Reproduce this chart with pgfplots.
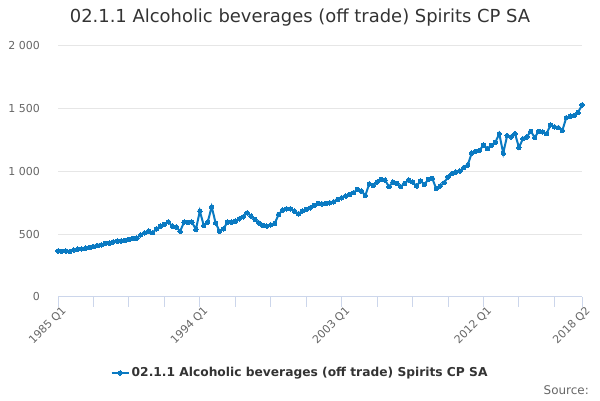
\documentclass[border=0pt]{standalone}
\usepackage{fontspec}
\setmainfont{DejaVu Sans}
\usepackage{pgfplots}
\pgfplotsset{compat=1.18}
\usepackage{pgfplotstable}
\definecolor{onsblue}{RGB}{10,122,194}
\definecolor{titlegray}{HTML}{333333}
\definecolor{labelgray}{HTML}{666666}
\definecolor{gridgray}{HTML}{E6E6E6}
\definecolor{axisblue}{HTML}{CCD6EB}
\pgfplotstableread{
i v
0 365
1 363
2 365
3 360
4 373
5 379
6 381
7 387
8 392
9 400
10 408
11 413
12 424
13 427
14 437
15 443
16 445
17 448
18 456
19 464
20 467
21 493
22 509
23 523
24 510
25 541
26 563
27 576
28 597
29 563
30 557
31 522
32 595
33 592
34 595
35 536
36 683
37 568
38 595
39 717
40 589
41 522
42 541
43 595
44 595
45 603
46 621
47 637
48 669
49 643
50 616
51 589
52 568
53 563
54 573
55 584
56 656
57 691
58 701
59 701
60 683
61 661
62 683
63 696
64 709
65 728
66 744
67 741
68 744
69 749
70 757
71 776
72 789
73 803
74 816
75 829
76 856
77 843
78 808
79 900
80 888
81 915
82 936
83 931
84 877
85 915
86 904
87 877
88 904
89 931
90 915
91 883
92 923
93 896
94 936
95 944
96 861
97 883
98 909
99 955
100 981
101 995
102 1003
103 1030
104 1050
105 1145
106 1160
107 1168
108 1210
109 1181
110 1208
111 1232
112 1300
113 1145
114 1285
115 1275
116 1300
117 1190
118 1260
119 1275
120 1320
121 1270
122 1320
123 1315
124 1300
125 1370
126 1355
127 1348
128 1325
129 1428
130 1440
131 1445
132 1470
133 1530
}\datatable
\begin{document}
\begin{tikzpicture}[x=1bp,y=1bp]
\useasboundingbox (0,0) rectangle (600,400);
\node[font=\fontsize{18}{21}\selectfont, text=titlegray] at (300,382) {02.1.1 Alcoholic beverages (off trade) Spirits CP SA};
\node[font=\fontsize{12}{14}\selectfont, text=labelgray, anchor=east, inner sep=0pt] at (589,10) {Source:};
\begin{axis}[
  at={(58bp,103.3bp)}, anchor=south west,
  scale only axis, width=524bp, height=250.7bp,
  xmin=0, xmax=133, ymin=0, ymax=2000,
  clip=false,
  axis x line*=bottom, axis y line*=left,
  y axis line style={draw=none},
  x axis line style={draw=axisblue, line width=1bp},
  ytick={0,500,1000,1500,2000},
  yticklabels={0,500,1 000,1 500,2 000},
  ytick style={draw=none},
  xtick={0,36,72,108,133},
  xticklabels={1985 Q1,1994 Q1,2003 Q1,2012 Q1,2018 Q2},
  minor xtick={9,18,27,45,54,63,81,90,99,117,126},
  x tick style={draw=axisblue, line width=1bp},
  tick align=outside, major tick length=10bp, minor tick length=10bp,
  ymajorgrids, grid style={draw=gridgray, line width=1bp},
  /pgf/number format/assume math mode=true,
  yticklabel style={font=\fontsize{11}{13}\selectfont, text=labelgray, anchor=east, inner sep=0pt, xshift=-8bp},
  xticklabel style={font=\fontsize{11}{13}\selectfont, text=labelgray, rotate=45, anchor=north east, inner sep=0pt, xshift=3bp, yshift=-1bp},
  legend style={at={(0.462,-0.304)}, anchor=center, draw=none, fill=none, font=\bfseries\fontsize{12.3}{15}\selectfont, text=titlegray, inner sep=0pt},
  legend cell align=left,
]
\addplot[color=onsblue, line width=2bp, mark=*, mark size=2.2bp, mark options={fill=onsblue, draw=onsblue, line width=0pt}] table[x=i, y=v] {\datatable};
\addlegendentry{02.1.1 Alcoholic beverages (off trade) Spirits CP SA}
\end{axis}
\end{tikzpicture}
\end{document}
